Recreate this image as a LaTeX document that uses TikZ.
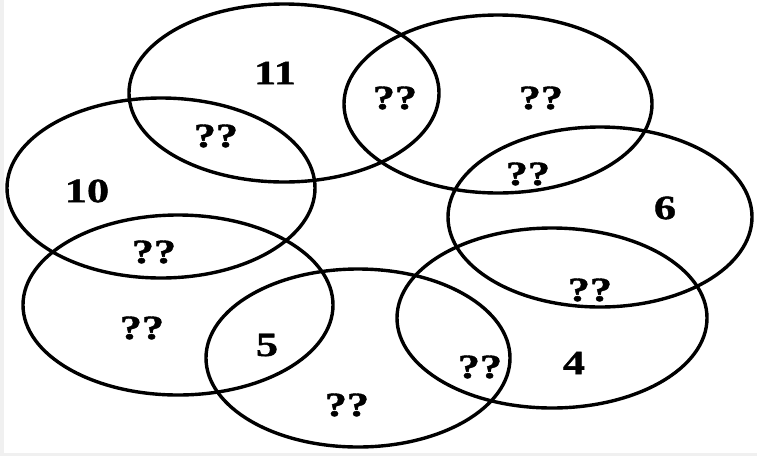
\documentclass[tikz,border=0pt]{standalone}
\usepackage{fontspec}
\newfontfamily\labfont[FakeStretch=1.3,FakeBold=1.2]{Liberation Serif Bold}
\begin{document}
\begin{tikzpicture}[x=1pt,y=-1pt,
  ring/.style={line width=3.4pt,draw=black},
  lab/.style={font=\labfont\fontsize{34}{34}\selectfont,inner sep=0pt,anchor=center}]
\useasboundingbox (0,0) rectangle (757,456);
\fill[white] (0,0) rectangle (757,456);
\fill[black!6] (0,0) rectangle (4,456);
\fill[black!6] (0,453) rectangle (757,456);
% ellipses
\draw[ring] (284,93) ellipse [x radius=155, y radius=89];
\draw[ring] (498,104) ellipse [x radius=154, y radius=89];
\draw[ring] (600,217) ellipse [x radius=152, y radius=90];
\draw[ring] (552,318) ellipse [x radius=155, y radius=90];
\draw[ring] (358,358) ellipse [x radius=152, y radius=89];
\draw[ring] (178,305) ellipse [x radius=155, y radius=90];
\draw[ring] (161,188) ellipse [x radius=154, y radius=90];
% labels
\node[lab] (n11) at (275,73) {11};
\node[lab] (q17) at (216,136) {??};
\node[lab] (n10) at (87,191) {10};
\node[lab] (q12) at (395,98) {??};
\node[lab] (q2) at (541,98) {??};
\node[lab] (q23) at (528,174) {??};
\node[lab] (n6) at (665,208) {6};
\node[lab] (q34) at (590,290) {??};
\node[lab] (n4) at (574,363) {4};
\node[lab] (q45) at (480,367) {??};
\node[lab] (q76) at (154,252) {??};
\node[lab] (q6) at (142,328) {??};
\node[lab] (n5) at (267,345) {5};
\node[lab] (q5) at (347,405) {??};
\end{tikzpicture}
\end{document}
